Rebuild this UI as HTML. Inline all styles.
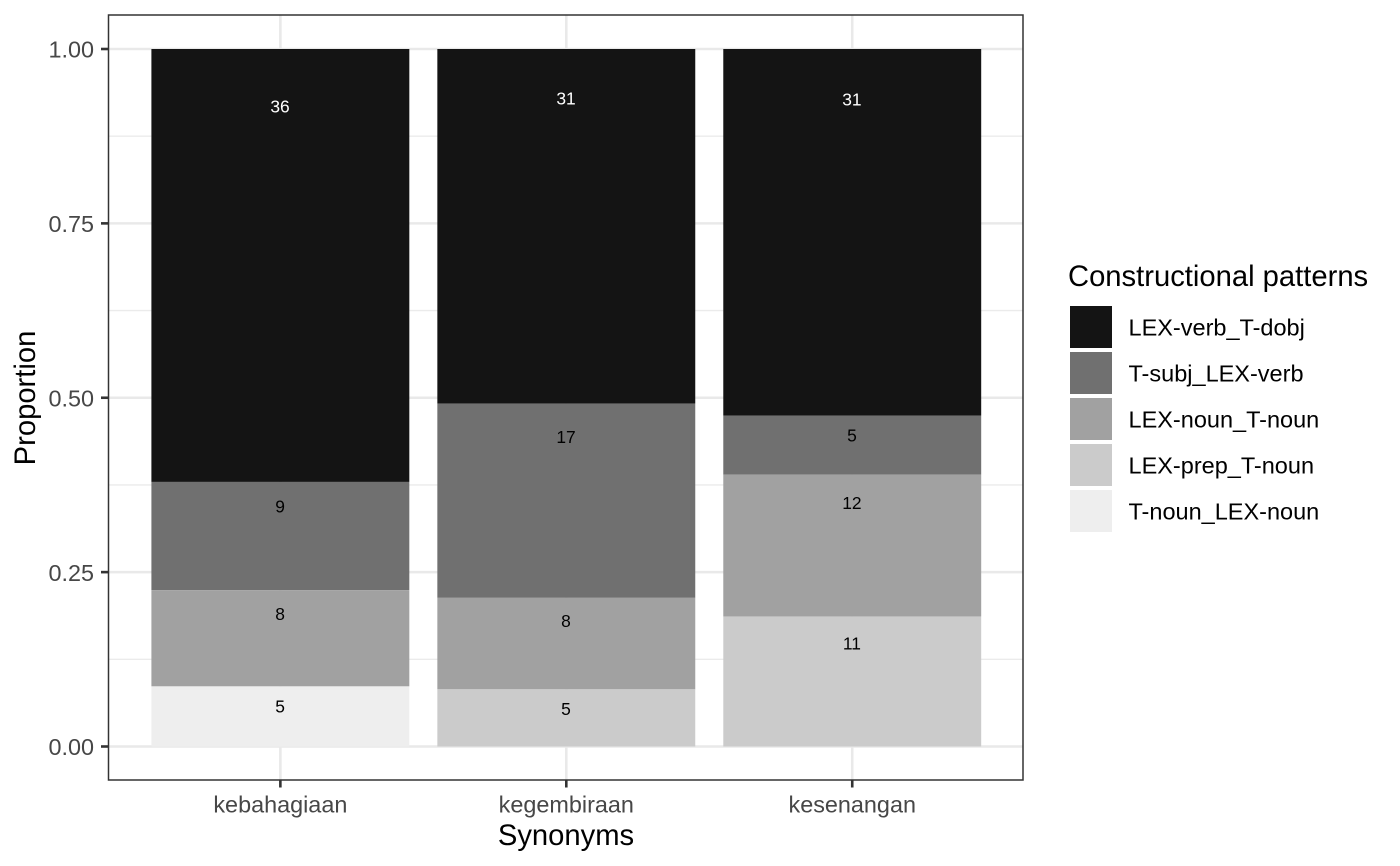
<!DOCTYPE html>
<html lang="en">
<head>
<meta charset="utf-8">
<title>Constructional patterns by synonym</title>
<style>
html,body{margin:0;padding:0;background:#fff;}
svg{display:block;font-family:"Liberation Sans",Arial,sans-serif;}
</style>
</head>
<body>
<svg id="chart" xmlns="http://www.w3.org/2000/svg" width="1400" height="866" viewBox="0 0 1400 866"></svg>
<script>
const categories = ['kebahagiaan', 'kegembiraan', 'kesenangan'];
const seriesNames = ['LEX-verb_T-dobj', 'T-subj_LEX-verb', 'LEX-noun_T-noun', 'LEX-prep_T-noun', 'T-noun_LEX-noun'];
const lexVerbDobj = [36, 31, 31];
const tSubjLexVerb = [9, 17, 5];
const lexNounTNoun = [8, 8, 12];
const lexPrepTNoun = [0, 5, 11];
const tNounLexNoun = [5, 0, 0];
const seriesValues = [lexVerbDobj, tSubjLexVerb, lexNounTNoun, lexPrepTNoun, tNounLexNoun];
const yTicks = ['0.00', '0.25', '0.50', '0.75', '1.00'];
const yMinorTicks = [0.125, 0.375, 0.625, 0.875];
const seriesColors = ['#141414', '#707070', '#a1a1a1', '#cbcbcb', '#eeeeee'];
const labelColors = ['#ffffff', '#000000', '#000000', '#000000', '#000000'];

const NS = 'http://www.w3.org/2000/svg';
const svg = document.getElementById('chart');
const panel = {left: 108.5, right: 1023, top: 15, bottom: 780};
const scaleLeft = 108.8, scaleRight = 1023.8;
const y0 = 746.5, y1 = 49;
const unit = (scaleRight - scaleLeft) / 3.2;
function xScale(i) { return scaleLeft + (i + 0.6) * unit; }
function yScale(v) { return y0 + (y1 - y0) * v; }
function make(tag, attrs, parent) {
  const el = document.createElementNS(NS, tag);
  for (const k in attrs) el.setAttribute(k, attrs[k]);
  (parent || svg).appendChild(el);
  return el;
}

const gridGroup = make('g', {});


yMinorTicks.forEach(function (v) {
  const l = make('line', {x1: panel.left, x2: panel.right, y1: yScale(v), y2: yScale(v), stroke: '#ebebeb', 'stroke-width': 1.3}, gridGroup);
  
  
});
yTicks.forEach(function (t) {
  const v = parseFloat(t);
  const l = make('line', {x1: panel.left, x2: panel.right, y1: yScale(v), y2: yScale(v), stroke: '#e9e9e9', 'stroke-width': 2.6}, gridGroup);
  
  
});
categories.forEach(function (c, i) {
  const l = make('line', {x1: xScale(i), x2: xScale(i), y1: panel.top, y2: panel.bottom, stroke: '#e9e9e9', 'stroke-width': 2.6}, gridGroup);
  
  
});

const barWidth = 0.902 * unit;
const labelJust = 0.9;
const labelDrop = 13.9;
const labelFont = 17.4;
categories.forEach(function (c, i) {
  const total = seriesValues.reduce(function (a, s) { return a + s[i]; }, 0);
  let cum = total;
  const group = make('g', {});
  
  
  seriesValues.forEach(function (s, k) {
    const val = s[i];
    if (!val) return;
    const topV = cum / total;
    const botV = (cum - val) / total;
    cum -= val;
    const r = make('rect', {x: xScale(i) - barWidth / 2, width: barWidth, y: yScale(topV), height: yScale(botV) - yScale(topV), fill: seriesColors[k]}, group);
    
    
    const labelY = yScale(botV + labelJust * (topV - botV)) + labelDrop;
    const tx = make('text', {x: xScale(i) - 0.3, y: labelY + 0.35 * labelFont, 'text-anchor': 'middle', 'font-size': labelFont, fill: labelColors[k]}, group);
    tx.textContent = String(val);
    
    
  });
});

const border = make('rect', {x: panel.left, y: panel.top, width: panel.right - panel.left, height: panel.bottom - panel.top, fill: 'none', stroke: '#333333', 'stroke-width': 1.5});



yTicks.forEach(function (t) {
  const v = parseFloat(t);
  const m = make('line', {x1: panel.left - 7.5, x2: panel.left, y1: yScale(v), y2: yScale(v), stroke: '#333333', 'stroke-width': 2.6});
  
  
  const tx = make('text', {x: 94, y: yScale(v) + 8.7, 'text-anchor': 'end', 'font-size': 23.4, fill: '#474747'});
  tx.textContent = t;
  
  
});
categories.forEach(function (c, i) {
  const m = make('line', {x1: xScale(i), x2: xScale(i), y1: panel.bottom, y2: panel.bottom + 7.5, stroke: '#333333', 'stroke-width': 2.6});
  
  
  const tx = make('text', {x: xScale(i), y: 812.5, 'text-anchor': 'middle', 'font-size': 23.4, fill: '#474747'});
  tx.textContent = c;
  
  
});

const xTitle = make('text', {x: 566, y: 845, 'text-anchor': 'middle', 'font-size': 29.2, fill: '#000'});
xTitle.textContent = 'Synonyms';


const yTitle = make('text', {transform: 'translate(35 398) rotate(-90)', 'text-anchor': 'middle', 'font-size': 29.2, fill: '#000'});
yTitle.textContent = 'Proportion';



const legend = make('g', {});


const legendTitle = make('text', {x: 1068, y: 286, 'font-size': 29.2, fill: '#000'}, legend);
legendTitle.textContent = 'Constructional patterns';


seriesNames.forEach(function (n, k) {
  const top = 306 + 46 * k;
  const sw = make('rect', {x: 1070, y: top, width: 42, height: 42, fill: seriesColors[k]}, legend);
  
  
  const tx = make('text', {x: 1128.5, y: top + 29.7, 'font-size': 23.5, fill: '#000'}, legend);
  tx.textContent = n;
  
  
});
</script>
</body>
</html>
